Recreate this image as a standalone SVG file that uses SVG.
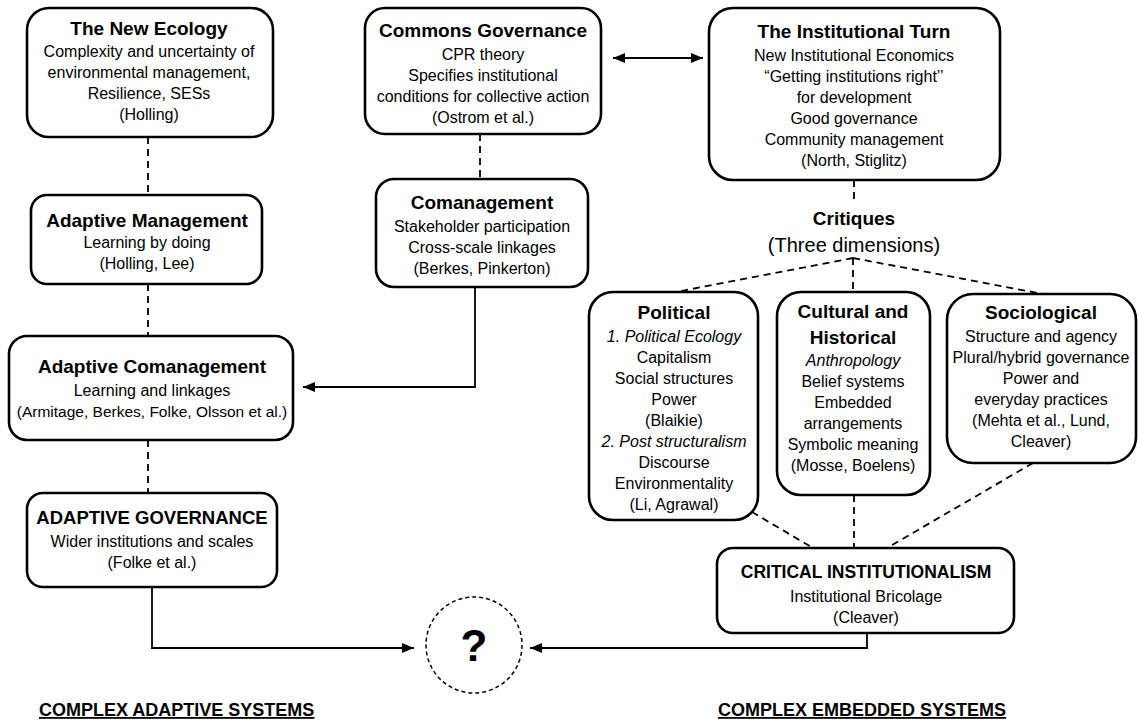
<svg xmlns="http://www.w3.org/2000/svg" width="1138" height="723" viewBox="0 0 1138 723">
<style>
  .box { fill: #fff; stroke: #000; stroke-width: 2.6; }
  .t { font-family: "Liberation Sans", Arial, sans-serif; font-size: 19px; font-weight: bold; text-anchor: middle; fill: #000; }
  .b { font-family: "Liberation Sans", Arial, sans-serif; font-size: 16px; text-anchor: middle; fill: #000; }
  .i { font-style: italic; }
  .dash { fill: none; stroke: #000; stroke-width: 1.8; stroke-dasharray: 7 5; }
  .solid { fill: none; stroke: #000; stroke-width: 1.8; }
  .foot { font-family: "Liberation Sans", Arial, sans-serif; font-size: 18px; font-weight: bold; text-decoration: underline; fill: #000; }
</style>
<defs>
  <marker id="arr" viewBox="0 0 12 10" refX="12" refY="5" markerWidth="12" markerHeight="10" markerUnits="userSpaceOnUse" orient="auto-start-reverse">
    <path d="M0,0 L12,5 L0,10 Z" fill="#000"/>
  </marker>
</defs>
<rect width="1138" height="723" fill="#fff"/>

<g id="connectors">
  <line class="dash" x1="148" y1="137" x2="148" y2="195"/>
  <line class="dash" x1="148" y1="284" x2="148" y2="336"/>
  <line class="dash" x1="148" y1="440" x2="148" y2="493"/>
  <line class="dash" x1="480" y1="134" x2="480" y2="179"/>
  <line class="solid" x1="613" y1="58" x2="703" y2="58" marker-start="url(#arr)" marker-end="url(#arr)"/>
  <polyline class="solid" points="475,287 475,387 303,387" marker-end="url(#arr)"/>
  <polyline class="solid" points="152,587 152,648 414,648" marker-end="url(#arr)"/>
  <polyline class="solid" points="867,633 867,648 530,648" marker-end="url(#arr)"/>
  <line class="dash" x1="854" y1="180" x2="854" y2="202"/>
  <line class="dash" x1="853" y1="258" x2="676" y2="292"/>
  <line class="dash" x1="853" y1="258" x2="853" y2="292"/>
  <line class="dash" x1="853" y1="258" x2="1043" y2="294"/>
  <line class="dash" x1="752" y1="512" x2="813" y2="548"/>
  <line class="dash" x1="854" y1="495" x2="854" y2="548"/>
  <line class="dash" x1="1033" y1="463" x2="887" y2="548"/>
</g>

<g id="new-ecology">
  <rect class="box" x="27" y="8" width="246" height="129" rx="22"/>
  <text class="t" x="149" y="35">The New Ecology</text>
  <text class="b" x="149" y="57">Complexity and uncertainty of</text>
  <text class="b" x="149" y="78">environmental management,</text>
  <text class="b" x="149" y="99">Resilience, SESs</text>
  <text class="b" x="149" y="120">(Holling)</text>
</g>

<g id="adaptive-management">
  <rect class="box" x="31" y="195" width="231" height="89" rx="16"/>
  <text class="t" x="147" y="227">Adaptive Management</text>
  <text class="b" x="147" y="248">Learning by doing</text>
  <text class="b" x="147" y="269">(Holling, Lee)</text>
</g>

<g id="adaptive-comanagement">
  <rect class="box" x="9" y="336" width="284" height="104" rx="18"/>
  <text class="t" x="152" y="373">Adaptive Comanagement</text>
  <text class="b" x="152" y="396">Learning and linkages</text>
  <text class="b" x="152" y="417" style="font-size:15.5px">(Armitage, Berkes, Folke, Olsson et al.)</text>
</g>

<g id="adaptive-governance">
  <rect class="box" x="27" y="493" width="250" height="94" rx="16"/>
  <text class="t" x="152" y="524" style="font-size:18.5px">ADAPTIVE GOVERNANCE</text>
  <text class="b" x="152" y="547">Wider institutions and scales</text>
  <text class="b" x="152" y="568">(Folke et al.)</text>
</g>

<g id="commons-governance">
  <rect class="box" x="365" y="8" width="236" height="126" rx="20"/>
  <text class="t" x="483" y="37">Commons Governance</text>
  <text class="b" x="483" y="60">CPR theory</text>
  <text class="b" x="483" y="81">Specifies institutional</text>
  <text class="b" x="483" y="102">conditions for collective action</text>
  <text class="b" x="483" y="123">(Ostrom et al.)</text>
</g>

<g id="comanagement">
  <rect class="box" x="376" y="179" width="212" height="108" rx="18"/>
  <text class="t" x="482" y="209">Comanagement</text>
  <text class="b" x="482" y="232">Stakeholder participation</text>
  <text class="b" x="482" y="253">Cross-scale linkages</text>
  <text class="b" x="482" y="274">(Berkes, Pinkerton)</text>
</g>

<g id="institutional-turn">
  <rect class="box" x="709" y="8" width="291" height="172" rx="24"/>
  <text class="t" x="854" y="38">The Institutional Turn</text>
  <text class="b" x="854" y="61">New Institutional Economics</text>
  <text class="b" x="854" y="82">“Getting institutions right’’</text>
  <text class="b" x="854" y="103">for development</text>
  <text class="b" x="854" y="124">Good governance</text>
  <text class="b" x="854" y="145">Community management</text>
  <text class="b" x="854" y="166">(North, Stiglitz)</text>
</g>

<g id="critiques">
  <text class="t" x="854" y="225">Critiques</text>
  <text class="b" x="854" y="252" style="font-size:20px">(Three dimensions)</text>
</g>

<g id="political">
  <rect class="box" x="589" y="292" width="169" height="228" rx="24"/>
  <text class="t" x="674" y="319">Political</text>
  <text class="b i" x="674" y="342">1. Political Ecology</text>
  <text class="b" x="674" y="363">Capitalism</text>
  <text class="b" x="674" y="384">Social structures</text>
  <text class="b" x="674" y="405">Power</text>
  <text class="b" x="674" y="426">(Blaikie)</text>
  <text class="b i" x="674" y="447">2. Post structuralism</text>
  <text class="b" x="674" y="468">Discourse</text>
  <text class="b" x="674" y="489">Environmentality</text>
  <text class="b" x="674" y="510">(Li, Agrawal)</text>
</g>

<g id="cultural-historical">
  <rect class="box" x="777" y="292" width="153" height="203" rx="24"/>
  <text class="t" x="853" y="318">Cultural and</text>
  <text class="t" x="853" y="344">Historical</text>
  <text class="b i" x="853" y="366">Anthropology</text>
  <text class="b" x="853" y="387">Belief systems</text>
  <text class="b" x="853" y="408">Embedded</text>
  <text class="b" x="853" y="429">arrangements</text>
  <text class="b" x="853" y="450">Symbolic meaning</text>
  <text class="b" x="853" y="471">(Mosse, Boelens)</text>
</g>

<g id="sociological">
  <rect class="box" x="947" y="294" width="189" height="169" rx="26"/>
  <text class="t" x="1041" y="319">Sociological</text>
  <text class="b" x="1041" y="342">Structure and agency</text>
  <text class="b" x="1041" y="363">Plural/hybrid governance</text>
  <text class="b" x="1041" y="384">Power and</text>
  <text class="b" x="1041" y="405">everyday practices</text>
  <text class="b" x="1041" y="426">(Mehta et al., Lund,</text>
  <text class="b" x="1041" y="447">Cleaver)</text>
</g>

<g id="critical-institutionalism">
  <rect class="box" x="717" y="548" width="297" height="85" rx="16"/>
  <text class="t" x="866" y="578" style="font-size:17.5px">CRITICAL INSTITUTIONALISM</text>
  <text class="b" x="866" y="602">Institutional Bricolage</text>
  <text class="b" x="866" y="623">(Cleaver)</text>
</g>

<g id="question">
  <circle cx="474" cy="645" r="48" fill="#fff" stroke="#000" stroke-width="1.5" stroke-dasharray="4 3"/>
  <text class="t" x="474" y="661" style="font-size:44px">?</text>
</g>

<g id="footers">
  <text class="foot" x="39" y="716">COMPLEX ADAPTIVE SYSTEMS</text>
  <text class="foot" x="718" y="716">COMPLEX EMBEDDED SYSTEMS</text>
</g>
</svg>
